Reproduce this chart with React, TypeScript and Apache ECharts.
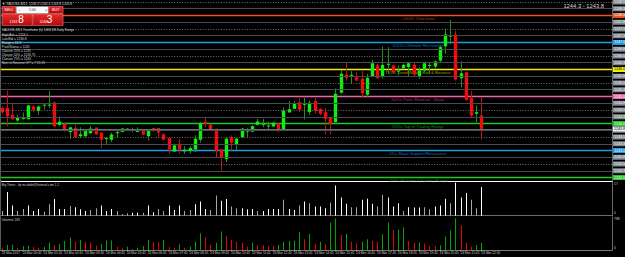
import React, { useEffect, useRef } from "react";
import * as echarts from "echarts";

// ---------- data ----------
const opens = [1244.57,1244.57,1244.32,1244.11,1244.17,1244.16,1244.63,1244.46,1244.67,1244.69,1244.79,1243.95,1243.99,1243.68,1243.83,1243.53,1243.53,1243.64,1243.85,1243.66,1243.43,1243.40,1243.64,1243.69,1243.74,1243.75,1243.69,1243.74,1243.53,1243.83,1243.83,1243.60,1243.46,1242.96,1243.25,1242.97,1242.99,1243.04,1243.40,1244.07,1243.95,1243.80,1243.04,1242.68,1243.49,1243.22,1243.49,1243.70,1243.70,1243.95,1243.97,1243.91,1243.89,1243.99,1243.74,1244.41,1244.54,1244.79,1244.72,1244.42,1244.83,1244.54,1244.42,1244.21,1244.05,1245.14,1245.81,1245.79,1245.71,1245.66,1245.07,1245.75,1246.15,1245.74,1246.20,1246.15,1245.95,1246.05,1246.09,1246.17,1245.75,1245.96,1246.16,1246.11,1246.33,1246.86,1247.25,1247.30,1245.68,1245.90,1244.94,1244.36,1244.30];
const closes = [1244.42,1244.27,1244.16,1244.21,1244.21,1244.67,1244.51,1244.63,1244.70,1244.70,1243.90,1244.07,1243.74,1243.86,1243.49,1243.60,1243.72,1243.81,1243.60,1243.40,1243.46,1243.59,1243.68,1243.81,1243.81,1243.77,1243.72,1243.59,1243.74,1243.74,1243.66,1243.40,1243.04,1243.19,1243.04,1243.03,1243.09,1243.44,1244.00,1243.99,1243.74,1243.00,1242.75,1243.44,1243.29,1243.44,1243.81,1243.74,1243.90,1244.07,1243.99,1243.93,1244.03,1243.78,1244.48,1244.53,1244.73,1244.51,1244.73,1244.77,1244.46,1244.36,1244.17,1243.99,1245.10,1245.84,1245.69,1245.80,1245.59,1245.12,1245.69,1246.23,1245.68,1246.17,1246.21,1245.90,1245.96,1246.17,1246.23,1245.81,1245.96,1246.23,1246.17,1246.30,1246.83,1247.30,1247.26,1245.63,1245.86,1244.88,1244.30,1244.42,1243.80];
const highs = [1244.63,1245.22,1244.74,1244.32,1244.40,1244.69,1244.67,1244.67,1244.70,1245.20,1244.80,1244.26,1244.05,1243.86,1243.93,1243.86,1243.74,1243.90,1243.85,1243.68,1243.49,1243.66,1243.74,1243.83,1243.83,1243.85,1243.86,1243.77,1243.74,1243.85,1243.84,1243.63,1243.46,1243.25,1243.43,1243.16,1243.15,1243.56,1244.05,1244.20,1243.99,1243.81,1243.04,1243.49,1243.56,1243.46,1243.84,1243.83,1243.93,1244.17,1244.17,1244.07,1244.07,1244.03,1244.60,1244.83,1244.83,1244.95,1244.95,1244.85,1244.95,1244.57,1244.57,1244.26,1245.30,1245.96,1246.27,1245.94,1245.90,1245.94,1245.84,1246.36,1246.21,1246.85,1246.83,1246.15,1246.15,1246.21,1246.27,1246.27,1246.09,1246.23,1246.27,1246.33,1246.89,1247.51,1247.84,1247.42,1246.31,1245.90,1245.20,1244.67,1244.95];
const lows = [1244.37,1243.90,1244.15,1244.07,1244.14,1244.16,1244.42,1244.32,1244.52,1244.57,1243.86,1243.90,1243.70,1243.43,1243.46,1243.46,1243.49,1243.62,1243.58,1243.09,1243.25,1243.31,1243.46,1243.68,1243.73,1243.68,1243.68,1243.57,1243.37,1243.70,1243.49,1243.37,1242.88,1242.94,1242.88,1242.88,1242.88,1242.94,1243.29,1243.86,1243.73,1242.75,1242.26,1242.57,1243.00,1243.03,1243.48,1243.46,1243.69,1243.93,1243.86,1243.74,1243.88,1243.68,1243.74,1244.41,1244.54,1244.42,1244.15,1244.32,1244.36,1244.30,1243.59,1243.59,1244.05,1245.10,1245.59,1245.47,1245.57,1244.97,1244.97,1245.71,1245.66,1245.66,1245.84,1245.84,1245.78,1246.03,1245.75,1245.75,1245.66,1245.90,1245.84,1246.03,1246.27,1246.58,1246.95,1245.59,1245.34,1244.85,1244.20,1244.05,1243.41];

const bigTimes = [2.4,11.9,5.1,2.4,3.4,5.1,2.4,3.4,2.0,5.8,8.4,3.4,3.4,4.9,4.3,3.2,2.4,2.9,3.8,5.1,2.4,3.4,2.4,0.85,1.2,1.5,1.5,1.5,5.1,1.7,3.4,2.4,5.1,2.9,5.1,2.4,2.9,5.8,7.2,3.4,2.9,10.2,7.5,8.4,4.6,3.8,3.8,3.2,3.4,2.4,2.4,3.4,3.4,3.4,8.0,3.4,2.9,5.1,7.2,6.3,4.6,4.6,3.8,6.7,15.2,9.2,6.0,4.3,4.3,8.0,8.5,6.0,4.6,10.6,9.2,4.6,6.3,2.4,4.3,4.1,4.1,4.3,3.2,4.6,5.1,8.5,6.3,16.6,9.2,11.4,8.0,3.8,14.5];
const bigTimesWhite = [0,1,1,0,0,1,1,1,0,0,1,1,1,0,1,1,1,0,0,1,1,1,0,0,0,1,1,0,1,1,0,0,1,1,1,0,0,1,1,1,0,0,1,1,0,0,1,1,1,0,1,1,1,1,0,1,1,0,1,0,1,1,1,0,1,1,1,0,0,1,1,1,0,0,1,1,1,0,1,1,1,0,0,1,1,1,0,1,1,1,0,0,1];

const volumes = [58,125,130,58,100,105,83,58,83,183,125,150,225,308,208,250,208,192,108,150,233,238,83,58,83,25,58,100,250,208,200,250,83,58,142,58,83,208,417,317,125,183,458,350,250,208,183,83,183,125,120,100,95,125,208,215,233,442,267,400,150,208,150,683,781,375,400,208,167,208,267,225,208,392,683,500,510,567,225,183,190,158,108,100,115,333,483,788,608,183,83,125,183];
const volumeUp = [0,1,1,0,1,1,0,0,1,1,0,1,1,1,0,1,0,0,0,1,1,1,0,0,1,0,1,1,1,0,0,1,0,0,1,0,1,1,1,0,0,1,1,0,0,0,0,0,1,0,0,0,0,1,1,1,1,1,0,1,0,1,0,1,1,0,1,0,0,1,1,0,0,1,1,0,1,1,0,0,1,0,0,0,1,1,1,1,0,0,0,1,1];

const timeLabels = ["23 Mar 2017","24 Mar 00:45","24 Mar 01:45","24 Mar 02:45","24 Mar 03:45","24 Mar 04:45","24 Mar 05:45","24 Mar 06:45","24 Mar 07:45","24 Mar 08:45","24 Mar 09:45","24 Mar 10:45","24 Mar 11:45","24 Mar 12:45","24 Mar 13:45","24 Mar 14:45","24 Mar 15:45","24 Mar 16:45","24 Mar 17:45","24 Mar 18:45","24 Mar 19:45","24 Mar 20:45","24 Mar 21:45","24 Mar 22:45"];
const timeLabelIdx = [0,4,8,12,16,20,24,28,32,36,40,44,48,52,56,60,64,68,72,76,80,84,88,92];

const levelValues = [1248, 1247, 1246, 1245, 1244, 1243, 1242];
const levelNames = ["+100% Overshoot","100%s Ultimate Resistance","75%s Trend Weak, Stall & Reverse","50%s Pivot, Reverse - Major","25%s Top of Trading Range","0%s Major Support/Resistance","-25%s Bottom of Trading Range"];
const gridLevels = [1242.25,1242.75,1243.25,1243.75,1244.25,1244.75,1245.25,1245.75,1246.25,1246.75,1247.25,1247.75,1248.25];
const dotLevels = [1242.5,1243.5,1244.5,1245.5,1246.5,1247.5,1248.5];
const bidPrice = 1243.8;
const askPrice = 1244.3;
const lastBar = { o: 1244.3, h: 1244.3, l: 1243.8, c: 1243.8 };
const infoLines = ["XAUUSD,M15 Timeframe (h) 14H21M Daily Range","High/Ask = 1253.1","Low/Bid = 1236.8","Range = 16.3","Pivot/Status = 1245","Closure 25% = 1235","Closure 50% = 1234.75","Closure 75% = 1243","Next to Reverse Of? = 7:15:25"];
const bigTimesMax = 17;

// ---------- styles ----------
const levelColors = ["#ea561e", "#1e9de6", "#f0f000", "#f064aa", "#22c822", "#1e9de6", "#22c822"];
const levelTextColors = ["#d44c1a", "#1a8ccf", "#c8c822", "#c44a8a", "#1ea41e", "#1a8ccf", "#1ea41e"];
const ANNOT_IDX = 79.8;
const X_MIN = -0.345;
const X_MAX = 117.03;
const P_MIN = 1241.8704;
const P_MAX = 1248.5370;
const FONT = 'Arial, "Liberation Sans", sans-serif';

export default function App() {
  const ref = useRef<HTMLDivElement>(null);
  useEffect(() => {
    document.body.style.margin = "0";
    document.body.style.background = "#000";
    const chart = echarts.init(ref.current!, null, { renderer: "svg" });

    const candleData = opens.map((o, i) => [i, o, closes[i], lows[i], highs[i]]);
    const btData = bigTimes.map((v, i) => [i, v]);
    const volData = volumes.map((v, i) => [i, v]);
    const volMax = Math.max(...volumes);

    const tagStyle = (bg: string, fg: string) => ({
      show: true, distance: 1, fontSize: 3.6, fontFamily: FONT,
      color: fg, backgroundColor: bg, padding: [0.6, 1, 0.4, 1],
    });

    const markData: any[] = [];
    gridLevels.forEach((v) => markData.push({ yAxis: v, lineStyle: { color: "#474b52", width: 1, type: "solid" }, label: { ...tagStyle("#858b93", "#f2f2f2"), position: "end", formatter: v.toFixed(1) } }));
    dotLevels.forEach((v) => markData.push({ yAxis: v, lineStyle: { color: "#707070", width: 1, type: [1, 1.6] }, label: { ...tagStyle("#858b93", "#f2f2f2"), position: "end", formatter: v.toFixed(1) } }));
    markData.push({ yAxis: bidPrice, lineStyle: { color: "#6a6e74", width: 1, type: "solid" }, label: { ...tagStyle("#eeeeee", "#000"), position: "end", formatter: bidPrice.toFixed(1) } });

    const levelSeries = levelValues.map((v, k) => ({
      type: "line", xAxisIndex: 0, yAxisIndex: 0, z: 2, silent: true,
      data: [[X_MIN, v], [X_MAX, v]],
      symbol: "none", showSymbol: false,
      lineStyle: { color: levelColors[k], width: 1.5 },
      endLabel: { ...tagStyle(levelColors[k], k === 2 ? "#000" : "#fff"), formatter: v.toFixed(1) },
      emphasis: { disabled: true },
    }));

    const hiddenAxis = { axisTick: { show: false }, axisLabel: { show: false }, splitLine: { show: false } };

    const txt = (text: string, x: number, y: number, size: number, fill: string, align = "left", extra: any = {}) => ({
      type: "text", x, y, silent: true, z: 100,
      style: { text, fontSize: size, fontFamily: FONT, fill, align, verticalAlign: "middle", ...extra },
    });
    const redGrad = { type: "linear", x: 0, y: 0, x2: 0, y2: 1, colorStops: [{ offset: 0, color: "#e62c2c" }, { offset: 1, color: "#b50a0a" }] };

    const option: any = {
      animation: false,
      backgroundColor: "#000000",
      textStyle: { fontFamily: FONT },
      grid: [
        { left: 0, top: 1, width: 612, height: 180, outerBoundsMode: "none" },
        { left: 0, top: 182, width: 612, height: 33.7, outerBoundsMode: "none" },
        { left: 0, top: 217, width: 612, height: 33, outerBoundsMode: "none" },
      ],
      xAxis: [
        { type: "value", gridIndex: 0, min: X_MIN, max: X_MAX, axisLine: { show: true, onZero: false, lineStyle: { color: "#ffffff" } }, ...hiddenAxis },
        { type: "value", gridIndex: 1, min: X_MIN, max: X_MAX, axisLine: { show: true, onZero: false, lineStyle: { color: "#6a6a6a" } }, ...hiddenAxis },
        {
          type: "value", gridIndex: 2, min: X_MIN, max: X_MAX,
          axisLine: { show: true, onZero: false, lineStyle: { color: "#7a7a7a" } },
          axisTick: { show: true, customValues: timeLabelIdx, length: 1.5, lineStyle: { color: "#9a9a9a" } },
          axisLabel: {
            show: true, customValues: timeLabelIdx, align: "left", margin: 1.5, fontSize: 3.2, color: "#cfcfcf",
            formatter: (v: number) => timeLabels[timeLabelIdx.indexOf(Math.round(v))] ?? "",
          },
          splitLine: { show: false },
        },
      ],
      yAxis: [
        { type: "value", gridIndex: 0, position: "right", min: P_MIN, max: P_MAX, axisLine: { show: true, onZero: false, lineStyle: { color: "#6a6a6a" } }, ...hiddenAxis },
        { type: "value", gridIndex: 1, position: "right", min: 0, max: bigTimesMax, axisLine: { show: true, onZero: false, lineStyle: { color: "#6a6a6a" } }, ...hiddenAxis },
        { type: "value", gridIndex: 2, position: "right", min: 0, max: 820, axisLine: { show: true, onZero: false, lineStyle: { color: "#6a6a6a" } }, ...hiddenAxis },
      ],
      series: [
        {
          type: "line", xAxisIndex: 0, yAxisIndex: 0, data: [], z: 1, silent: true,
          markLine: { symbol: ["none", "none"], silent: true, animation: false, data: markData },
        },
        ...levelSeries,
        {
          type: "scatter", xAxisIndex: 0, yAxisIndex: 0, z: 2, silent: true, symbolSize: 1,
          itemStyle: { color: "rgba(0,0,0,0)" },
          data: levelValues.map((v, k) => ({
            value: [ANNOT_IDX, v],
            label: { show: true, position: "bottom", distance: 0.8, fontSize: 4.2, color: levelTextColors[k], formatter: levelNames[k] },
          })),
        },
        {
          type: "custom", xAxisIndex: 0, yAxisIndex: 0, z: 3, silent: true,
          encode: { x: 0, y: [1, 2, 3, 4] },
          data: candleData,
          renderItem: (_p: any, api: any) => {
            const i = api.value(0), o = api.value(1), c = api.value(2), l = api.value(3), h = api.value(4);
            const pO = api.coord([i, o]), pC = api.coord([i, c]), pL = api.coord([i, l]), pH = api.coord([i, h]);
            const x = Math.round(pO[0]) + 0.5;
            const up = c >= o;
            const top = Math.min(pO[1], pC[1]);
            const bh = Math.max(Math.abs(pO[1] - pC[1]), 1);
            return {
              type: "group",
              children: [
                { type: "line", shape: { x1: x, y1: pH[1], x2: x, y2: pL[1] }, style: { stroke: up ? "#238f23" : "#c41010", lineWidth: 1 } },
                { type: "rect", shape: { x: x - 1.7, y: top, width: 3.4, height: bh }, style: { fill: up ? "#0ef00e" : "#f50a0a" } },
              ],
            };
          },
        },
        {
          type: "custom", xAxisIndex: 1, yAxisIndex: 1, silent: true,
          encode: { x: 0, y: 1 },
          data: btData,
          renderItem: (p: any, api: any) => {
            const i = api.value(0), v = api.value(1);
            const p0 = api.coord([i, 0]), p1 = api.coord([i, v]);
            return { type: "rect", shape: { x: Math.round(p0[0]), y: p1[1], width: 1, height: p0[1] - p1[1] }, style: { fill: bigTimesWhite[p.dataIndex] ? "#ffffff" : "#a6a6a6" } };
          },
        },
        {
          type: "custom", xAxisIndex: 2, yAxisIndex: 2, silent: true,
          encode: { x: 0, y: 1 },
          data: volData,
          renderItem: (p: any, api: any) => {
            const i = api.value(0), v = api.value(1);
            const p0 = api.coord([i, 0]), p1 = api.coord([i, v]);
            return { type: "rect", shape: { x: Math.round(p0[0]), y: p1[1], width: 1, height: p0[1] - p1[1] }, style: { fill: volumeUp[p.dataIndex] ? "#00a600" : "#ea0000" } };
          },
        },
      ],
      graphic: [
        { type: "line", silent: true, z: 50, shape: { x1: 0.5, y1: 0, x2: 0.5, y2: 250 }, style: { stroke: "#5a5a5a", lineWidth: 1 } },
        txt(`\u25BC XAUUSD,M15  ${lastBar.o.toFixed(1)} ${lastBar.h.toFixed(1)} ${lastBar.l.toFixed(1)} ${lastBar.c.toFixed(1)}`, 2, 3.4, 3.3, "#d6d6d6"),
        txt(`${askPrice.toFixed(1)} - ${bidPrice.toFixed(1)}`, 604, 6.3, 5.8, "#d8d8d8", "right"),
        // one-click trading panel
        { type: "rect", z: 99, shape: { x: 2, y: 6.5, width: 14, height: 7 }, style: { fill: redGrad, stroke: "#f08a8a", lineWidth: 0.5 } },
        { type: "rect", z: 99, shape: { x: 16.3, y: 6.5, width: 32, height: 7 }, style: { fill: "#fbfbfb", stroke: "#b0b0b0", lineWidth: 0.5 } },
        { type: "rect", z: 99, shape: { x: 48.6, y: 6.5, width: 14.5, height: 7 }, style: { fill: redGrad, stroke: "#f08a8a", lineWidth: 0.5 } },
        { type: "rect", z: 99, shape: { x: 2, y: 14, width: 30.3, height: 11.5 }, style: { fill: redGrad, stroke: "#f08a8a", lineWidth: 0.5 } },
        { type: "rect", z: 99, shape: { x: 32.8, y: 14, width: 30.3, height: 11.5 }, style: { fill: redGrad, stroke: "#f08a8a", lineWidth: 0.5 } },
        txt("SELL", 9, 10.1, 3.8, "#ffffff", "center"),
        txt("BUY", 55.8, 10.1, 3.8, "#ffffff", "center"),
        txt("\u2013", 18.4, 10, 3.6, "#222222"),
        txt("1.00", 32.3, 10.1, 3.4, "#222222", "center"),
        txt("+", 45.2, 10, 3.6, "#222222"),
        txt("1243.", 9.6, 21.8, 3.4, "#ffffff"),
        txt("8", 18.3, 19.8, 10, "#ffffff"),
        txt("1244.", 39.4, 21.8, 3.4, "#ffffff"),
        txt("3", 46.8, 19.8, 10, "#ffffff"),
        ...infoLines.map((t, k) => txt(t, 1.8, [30, 34.7, 39, 43, 47, 50.7, 54.7, 58.3, 62.3][k], 3.2, "#d8d8d8")),
        // sub-window captions and scale texts
        txt("Big Times - by mr.abdel@hotmail.com 1.1", 1.8, 185, 3.1, "#c8c8c8"),
        txt(`Volumes ${volumes[volumes.length - 1]}`, 1.8, 219.3, 3.1, "#c8c8c8"),
        txt(String(bigTimesMax), 614, 184.3, 3.4, "#c8c8c8"),
        txt("0", 614, 213.2, 3.4, "#c8c8c8"),
        txt(String(volMax), 614, 219, 3.4, "#c8c8c8"),
        txt("0", 614, 247.6, 3.4, "#c8c8c8"),
      ],
    };
    chart.setOption(option);
    return () => chart.dispose();
  }, []);
  return <div ref={ref} style={{ width: 625, height: 257, background: "#000" }} />;
}
